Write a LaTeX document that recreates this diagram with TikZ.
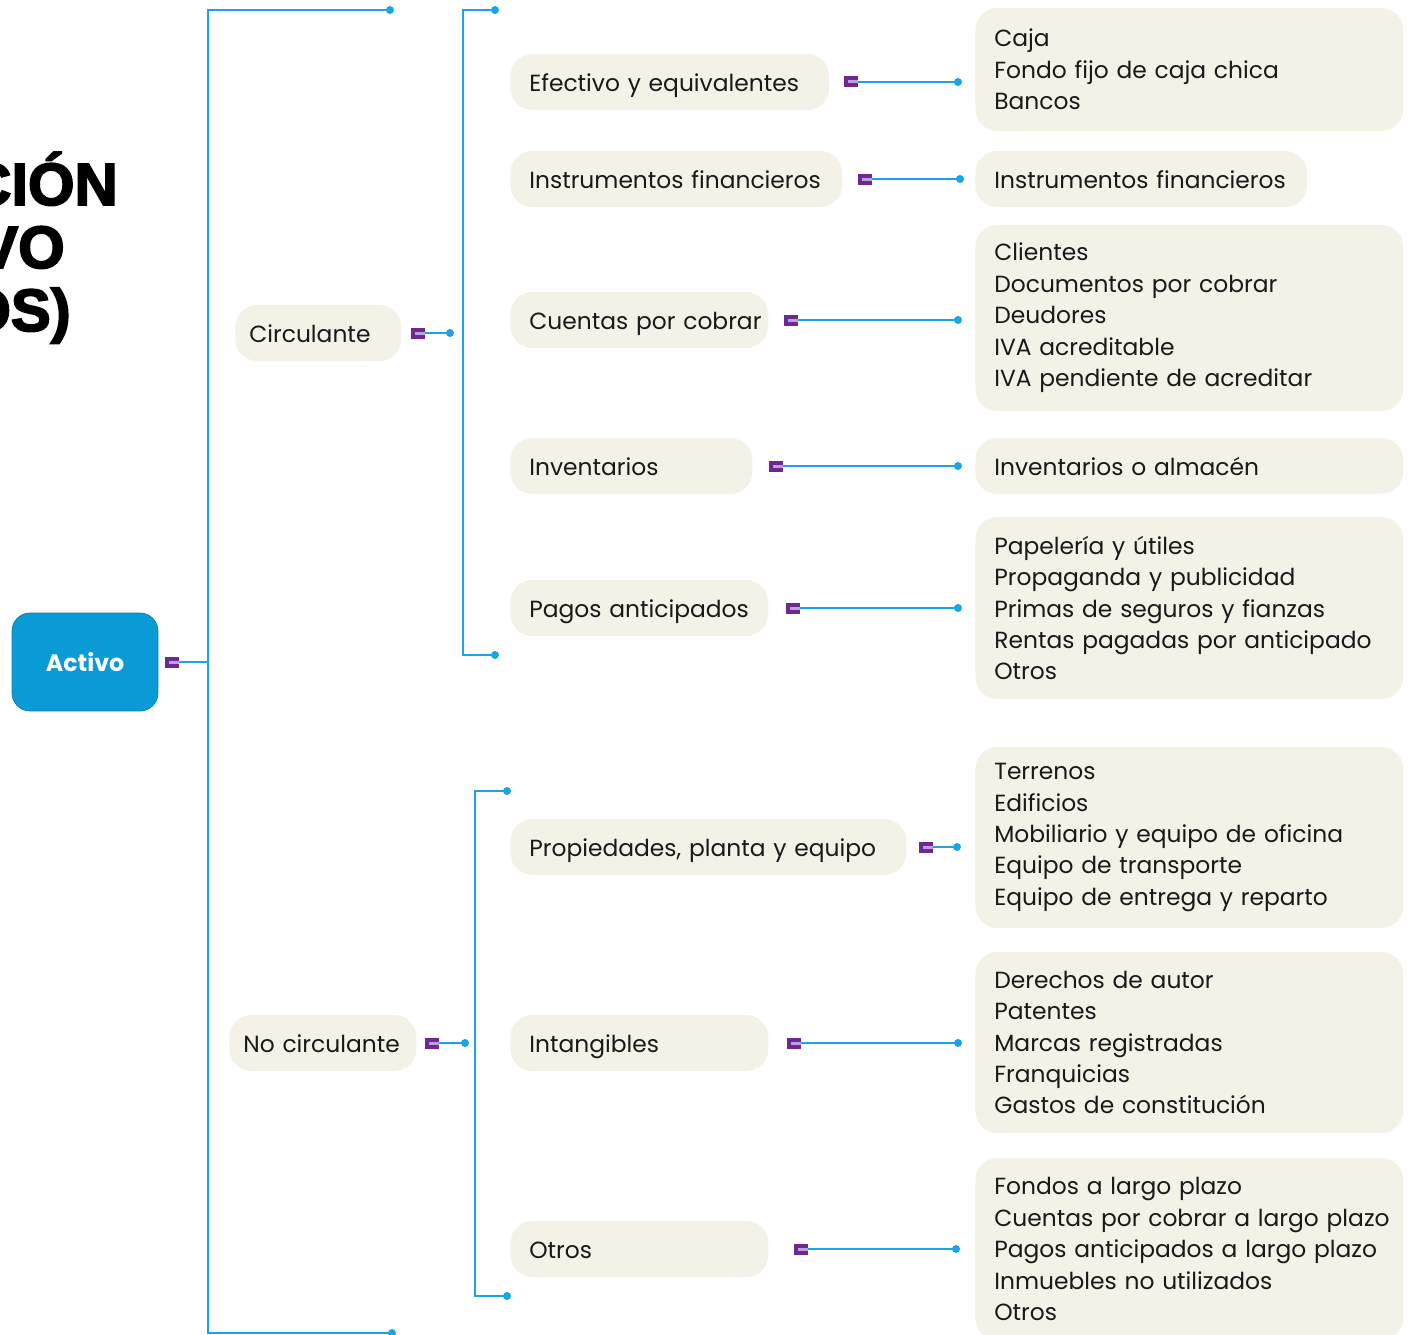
\documentclass[tikz,border=0pt]{standalone}
\usepackage{fontspec}
\setmainfont{Poppins}
\newfontfamily\gruesa[BoldFeatures={FakeBold=3}]{Liberation Sans}
\usetikzlibrary{calc}
\definecolor{azul}{RGB}{10,155,215}
\definecolor{linea}{RGB}{25,165,225}
\definecolor{crema}{RGB}{244,241,230}
\definecolor{morado}{RGB}{110,40,145}
\definecolor{lila}{RGB}{185,160,225}
\definecolor{tinta}{RGB}{25,25,25}
\hyphenpenalty=10000
\tikzset{
	pildora/.style={fill=crema, rounded corners=0.44cm, text=tinta, anchor=west, align=left, inner xsep=0pt, inner ysep=0pt, minimum height=1.12cm, text width=#1, execute at begin node={\leftskip=0.38cm}},
	unalinea/.style={pildora=#1, text height=1.15em, text depth=0.05em},
	lista/.style={pildora=8.56cm},
	union/.style={draw=linea, line width=1.4pt},
	punto/.style={circle, fill=linea, inner sep=0pt, minimum size=0.16cm},
}
% marca morada y conector hasta el punto
\newcommand\enlace[4]{%
	\coordinate (m) at ($(#1.east)+(#2,0)$);
	\draw[union] ($(m)+(14,0)$) -- ($(m -| #3)+(-#4,0)$) node[punto]{};
	\fill[morado] ($(m)+(0,-5.5)$) rectangle ($(m)+(14,5.5)$);
	\fill[lila] ($(m)+(4,-1.5)$) rectangle ($(m)+(14,1.5)$);
}
\begin{document}
\begin{tikzpicture}[x=0.02cm, y=-0.02cm, font=\fontsize{13.3pt}{17.9pt}\selectfont, line cap=round]
	\useasboundingbox (0,0) rectangle (1410,1335);
	\clip (0,0) rectangle (1410,1335);
	% titulo cortado
	\begin{scope}[font={\gruesa\bfseries\fontsize{34pt}{40pt}\selectfont}]
		\node[anchor=base east, inner sep=0] (t1) at (118,205) {CIÓN};
		\node[anchor=base east, inner sep=0] (t2) at (65,268) {VO};
		\node[anchor=base east, inner sep=0] (t3) at (71,331) {OS)};
	\end{scope}
	% raiz
	\node[fill=azul, draw=azul!80!black, line width=0.4pt, rounded corners=0.36cm, minimum width=2.92cm, minimum height=1.96cm, text=white, font={\bfseries\fontsize{13.5pt}{16pt}\selectfont}] (activo) at (85,662) {Activo};
	\coordinate (s1a) at (390,10); \coordinate (s1b) at (392,1333); \coordinate (s1) at (208,662);
	\draw[union] (s1a) -| (s1b -| s1) -- (s1b);
	\foreach \p in {s1a,s1b} \node[punto] at (\p) {};
	\coordinate (m) at ($(activo.east)+(7,0)$);
	\draw[union] ($(m)+(14,0)$) -- (m -| s1);
	\fill[morado] ($(m)+(0,-5.5)$) rectangle ($(m)+(14,5.5)$);
	\fill[lila] ($(m)+(4,-1.5)$) rectangle ($(m)+(14,1.5)$);
	% circulante
	\node[unalinea=3.32cm, execute at begin node={\leftskip=0.28cm}] (circ) at (235,333) {Circulante};
	\coordinate (s2a) at (495,10); \coordinate (s2b) at (495,655); \coordinate (s2) at (463,333);
	\draw[union] (s2a) -| (s2b -| s2) -- (s2b);
	\foreach \p in {s2a,s2b} \node[punto] at (\p) {};
	\enlace{circ}{9}{s2}{13}
	% no circulante
	\node[unalinea=3.74cm, execute at begin node={\leftskip=0.28cm}] (nocirc) at (229,1043) {No circulante};
	\coordinate (s3a) at (507,791); \coordinate (s3b) at (507,1296); \coordinate (s3) at (475,1043);
	\draw[union] (s3a) -| (s3b -| s3) -- (s3b);
	\foreach \p in {s3a,s3b} \node[punto] at (\p) {};
	\enlace{nocirc}{8}{s3}{10}
	% segundo nivel
	\node[unalinea=6.38cm] (efe) at (510,82) {Efectivo y equivalentes};
	\node[unalinea=6.64cm] (inst) at (510,179) {Instrumentos financieros};
	\node[unalinea=5.16cm] (cxc) at (510,320) {Cuentas por cobrar};
	\node[unalinea=4.84cm] (inv) at (510,466) {Inventarios};
	\node[unalinea=5.16cm] (pag) at (510,608) {Pagos anticipados};
	\node[unalinea=7.92cm] (prop) at (510,847) {Propiedades, planta y equipo};
	\node[unalinea=5.16cm] (intan) at (510,1043) {Intangibles};
	\node[unalinea=5.16cm] (otros) at (510,1249) {Otros};
	% cuentas
	\node[lista, minimum height=2.46cm] (hEfe) at (975,69.5) {Caja\\Fondo fijo de caja chica\\Bancos};
	\node[unalinea=6.64cm] (hInst) at (975,179) {Instrumentos financieros};
	\node[lista, minimum height=3.72cm] (hCxc) at (975,318) {Clientes\\Documentos por cobrar\\Deudores\\IVA acreditable\\IVA pendiente de acreditar};
	\node[unalinea=8.56cm] (hInv) at (975,466) {Inventarios o almacén};
	\node[lista, minimum height=3.64cm] (hPag) at (975,608) {Papelería y útiles\\Propaganda y publicidad\\Primas de seguros y fianzas\\Rentas pagadas por anticipado\\Otros};
	\node[lista, minimum height=3.62cm] (hProp) at (975,837.5) {Terrenos\\Edificios\\Mobiliario y equipo de oficina\\Equipo de transporte\\Equipo de entrega y reparto};
	\node[lista, minimum height=3.62cm] (hIntan) at (975,1042.5) {Derechos de autor\\Patentes\\Marcas registradas\\Franquicias\\Gastos de constitución};
	\node[lista, minimum height=3.64cm] (hOtros) at (975,1249) {Fondos a largo plazo\\Cuentas por cobrar a largo plazo\\Pagos anticipados a largo plazo\\Inmuebles no utilizados\\Otros};
	% conectores
	\enlace{efe}{14}{hEfe.west}{17}
	\enlace{inst}{15}{hInst.west}{15}
	\enlace{cxc}{15}{hCxc.west}{17}
	\enlace{inv}{16}{hInv.west}{17}
	\enlace{pag}{17}{hPag.west}{17}
	\enlace{prop}{12}{hProp.west}{18}
	\enlace{intan}{18}{hIntan.west}{17}
	\enlace{otros}{25}{hOtros.west}{19}
\end{tikzpicture}
\end{document}
